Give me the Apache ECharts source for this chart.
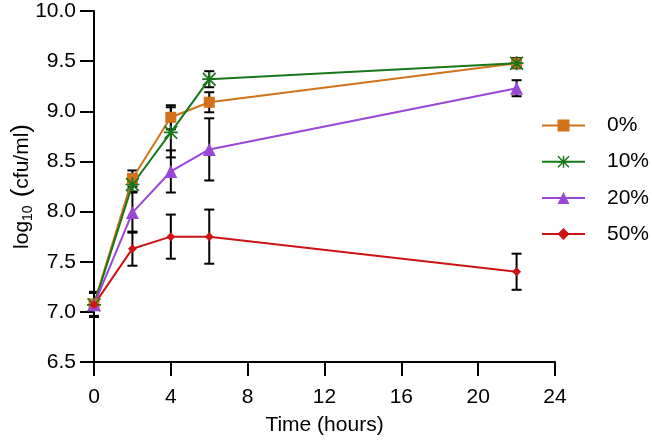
<!DOCTYPE html>
<html>
<head>
<meta charset="utf-8">
<script src="https://cdn.jsdelivr.net/npm/echarts@6/dist/echarts.min.js"></script>
<style>html,body{margin:0;padding:0;background:#fff}#c{width:652px;height:441px}</style>
</head>
<body>
<div id="c"></div>
<script>
const times = [0, 2, 4, 6, 22];
const seriesNames = ['0%', '10%', '20%', '50%'];
const s0 = [7.08, 8.33, 8.94, 9.09, 9.48];
const e0 = [0.12, 0.08, 0.12, 0.10, 0.05];
const s10 = [7.07, 8.27, 8.79, 9.32, 9.48];
const e10 = [0.12, 0.07, 0.25, 0.08, 0.05];
const s20 = [7.07, 7.99, 8.40, 8.62, 9.23];
const e20 = [0.12, 0.20, 0.21, 0.31, 0.08];
const s50 = [7.07, 7.63, 7.75, 7.75, 7.40];
const e50 = [0.12, 0.17, 0.22, 0.27, 0.18];
const xTicks = [0, 4, 8, 12, 16, 20, 24];
const yTicks = [6.5, 7.0, 7.5, 8.0, 8.5, 9.0, 9.5, 10.0];

const colors = ['#D2721B', '#17771A', '#9B47D6', '#CC1414'];
const starPath = 'path://M8.8 0L11.2 0L11.2 20L8.8 20Z M0 8.8L20 8.8L20 11.2L0 11.2Z M1.7 0L20 18.3L18.3 20L0 1.7Z M18.3 0L20 1.7L1.7 20L0 18.3Z';
const symbols = ['rect', starPath, 'triangle', 'diamond'];
const symbolSizes = [11, 14, 13, 9];
const means = [s0, s10, s20, s50];
const errs = [e0, e10, e20, e50];
const FONT = '"Liberation Sans", Arial, sans-serif';

const chart = echarts.init(document.getElementById('c'), null, {renderer: 'canvas'});

const series = [];
means.forEach((m, k) => {
  series.push({
    type: 'custom',
    name: seriesNames[k] + '_err',
    z: 1,
    silent: true,
    data: times.map((t, i) => [t, m[i] - errs[k][i], m[i] + errs[k][i]]),
    renderItem: function (params, api) {
      const lo = api.coord([api.value(0), api.value(1)]);
      const hi = api.coord([api.value(0), api.value(2)]);
      const w = 5;
      const st = {stroke: '#000', lineWidth: 2, fill: null};
      return {
        type: 'group',
        children: [
          {type: 'line', shape: {x1: lo[0], y1: lo[1], x2: hi[0], y2: hi[1]}, style: st},
          {type: 'line', shape: {x1: lo[0] - w, y1: lo[1], x2: lo[0] + w, y2: lo[1]}, style: st},
          {type: 'line', shape: {x1: hi[0] - w, y1: hi[1], x2: hi[0] + w, y2: hi[1]}, style: st}
        ]
      };
    }
  });
});
means.forEach((m, k) => {
  series.push({
    type: 'line',
    name: seriesNames[k],
    z: 3,
    data: times.map((t, i) => [t, m[i]]),
    symbol: symbols[k],
    symbolSize: symbolSizes[k],
    showAllSymbol: true,
    lineStyle: {color: colors[k], width: 2},
    itemStyle: {color: colors[k]},
    emphasis: {disabled: true}
  });
});

chart.setOption({
  animation: false,
  backgroundColor: '#fff',
  grid: {left: 94, right: 97, top: 11, bottom: 79, containLabel: false, outerBoundsMode: 'none'},
  legend: {
    orient: 'vertical',
    left: 536,
    top: 110,
    data: seriesNames,
    itemWidth: 43,
    itemHeight: 15,
    itemGap: 15.2,
    textStyle: {fontFamily: FONT, fontSize: 21, color: '#000', padding: [0, 0, 0, 17]}
  },
  xAxis: {
    type: 'value',
    min: 0, max: 24, interval: 4,
    name: 'Time (hours)',
    nameLocation: 'middle',
    nameGap: 53,
    nameMoveOverlap: false,
    nameTextStyle: {fontFamily: FONT, fontSize: 21, color: '#000'},
    axisLine: {lineStyle: {color: '#000', width: 2}},
    axisTick: {show: true, length: 14, lineStyle: {color: '#000', width: 2}},
    axisLabel: {fontFamily: FONT, fontSize: 21, color: '#000', margin: 25,
      formatter: v => xTicks.includes(v) ? String(v) : ''},
    splitLine: {show: false}
  },
  yAxis: {
    type: 'value',
    min: 6.5, max: 10, interval: 0.5,
    name: '{a|log}{s|10}{p|(}{a|cfu/ml}{p|)}',
    nameLocation: 'middle',
    nameGap: 59,
    nameMoveOverlap: false,
    nameRotate: 90,
    nameTextStyle: {
      fontFamily: FONT, fontSize: 21, color: '#000',
      rich: {
        a: {fontFamily: FONT, fontSize: 21, color: '#000'},
        s: {fontFamily: FONT, fontSize: 14, color: '#000', verticalAlign: 'bottom', padding: [8, 8, 0, 0]},
        p: {fontFamily: FONT, fontSize: 26, color: '#000'}
      }
    },
    axisLine: {show: true, lineStyle: {color: '#000', width: 2}},
    axisTick: {show: true, length: 14, lineStyle: {color: '#000', width: 2}},
    axisLabel: {fontFamily: FONT, fontSize: 21, color: '#000', margin: 18,
      formatter: v => yTicks.some(t => Math.abs(t - v) < 1e-9) ? v.toFixed(1) : ''},
    splitLine: {show: false}
  },
  series: series
});
</script>
</body>
</html>
